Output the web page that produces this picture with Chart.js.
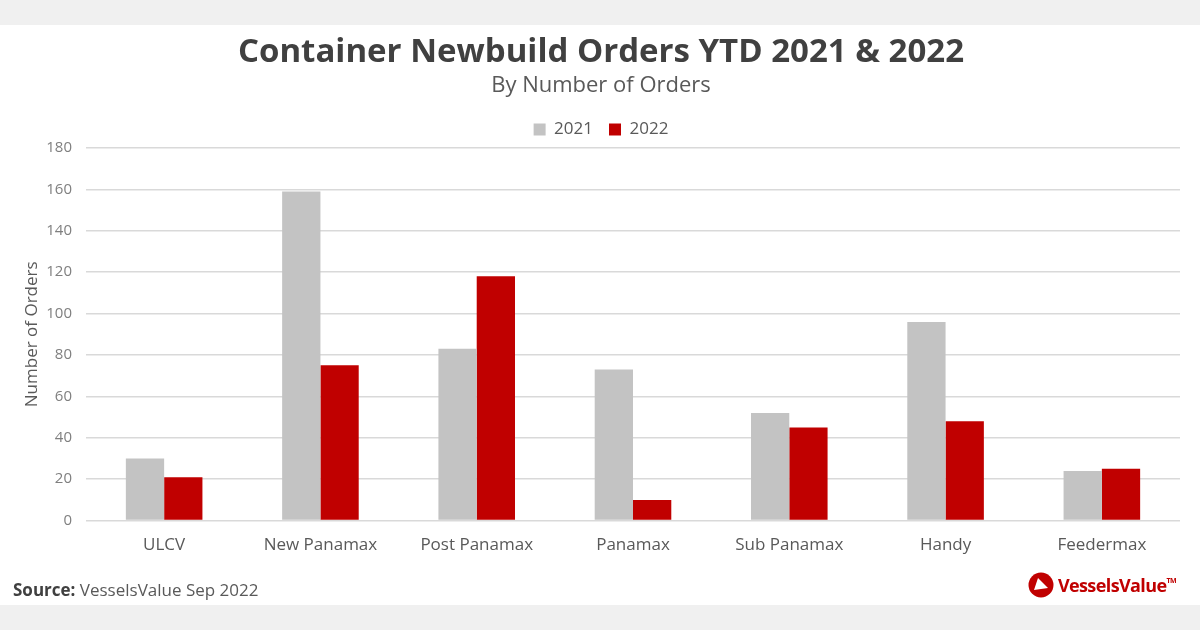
<!DOCTYPE html>
<html>
<head>
<meta charset="utf-8">
<script src="https://cdn.jsdelivr.net/npm/chart.js@4"></script>
<style>
  html, body { margin: 0; padding: 0; }
  body { width: 1200px; height: 630px; background: #f0f0f0; position: relative; overflow: hidden; font-family: "Open Sans", sans-serif; }
  #card { position: absolute; left: 0; top: 25px; width: 1200px; height: 580px; background: #fff; }
  #wrap { position: absolute; left: 0; top: 0; width: 1200px; height: 580px; }
  #source { position: absolute; left: 13px; top: 553px; font-size: 17px; color: #595959; }
  #source b { color: #404040; }
  #logo { position: absolute; right: 24px; top: 547px; display: flex; align-items: center; color: #c00000; font-weight: bold; font-size: 18px; letter-spacing: -0.6px; }
  #logo svg { margin-right: 4px; }
  #logo sup { font-size: 7px; vertical-align: top; position: relative; top: 3px; }
</style>
</head>
<body>
<div id="card">
  <div id="wrap"><canvas id="bar-chart"></canvas></div>
  <div id="source"><b>Source:</b> VesselsValue Sep 2022</div>
  <div id="logo">
    <svg width="26" height="26" viewBox="0 0 26 26">
      <circle cx="13" cy="13" r="12.5" fill="#c00000"/>
      <polygon points="10,6 20,16 6,18" fill="#fff"/>
    </svg>
    <span>VesselsValue<sup>TM</sup></span>
  </div>
</div>
<script>
const categories = ["ULCV", "New Panamax", "Post Panamax", "Panamax", "Sub Panamax", "Handy", "Feedermax"];
const orders2021 = [30, 159, 83, 73, 52, 96, 24];
const orders2022 = [21, 75, 118, 10, 45, 48, 25];
const yTicks = [0, 20, 40, 60, 80, 100, 120, 140, 160, 180];

const FONT = "'Open Sans', sans-serif";
const chart = document.getElementById("bar-chart");

new Chart(chart, {
  type: "bar",
  data: {
    labels: categories,
    datasets: [
      { label: "2021", data: orders2021, backgroundColor: "#c3c3c3" },
      { label: "2022", data: orders2022, backgroundColor: "#c00000" },
    ],
  },
  options: {
    responsive: true,
    maintainAspectRatio: false,
    animation: false,
    categoryPercentage: 0.49,
    barPercentage: 1,
    layout: { padding: { left: 22, right: 20, bottom: 44 } },
    plugins: {
      title: {
        display: true,
        text: "Container Newbuild Orders YTD 2021 & 2022",
        color: "#404040",
        font: { family: FONT, size: 33, weight: "bold" },
        padding: { top: 8, bottom: 0 },
      },
      subtitle: {
        display: true,
        text: "By Number of Orders",
        color: "#595959",
        font: { family: FONT, size: 22 },
        padding: { top: 0, bottom: 6 },
      },
      legend: {
        position: "top",
        labels: {
          color: "#595959",
          font: { family: FONT, size: 17 },
          boxWidth: 12,
          boxHeight: 12,
          padding: 16,
        },
      },
      tooltip: { enabled: false },
    },
    scales: {
      x: {
        grid: { display: false },
        border: { display: false },
        ticks: { color: "#595959", font: { family: FONT, size: 17 }, padding: 6 },
      },
      y: {
        min: 0,
        max: 180,
        afterBuildTicks: (scale) => {
          scale.ticks = yTicks.map((v) => ({ value: v }));
        },
        afterFit: (scale) => {
          scale.width = 64;
        },
        grid: { color: "#d9d9d9", lineWidth: 1.5, drawTicks: false },
        border: { display: false },
        ticks: { color: "#7f7f7f", font: { family: FONT, size: 15 }, padding: 14 },
        title: {
          display: true,
          text: "Number of Orders",
          color: "#595959",
          font: { family: FONT, size: 17 },
          padding: 0,
        },
      },
    },
  },
});
</script>
</body>
</html>
